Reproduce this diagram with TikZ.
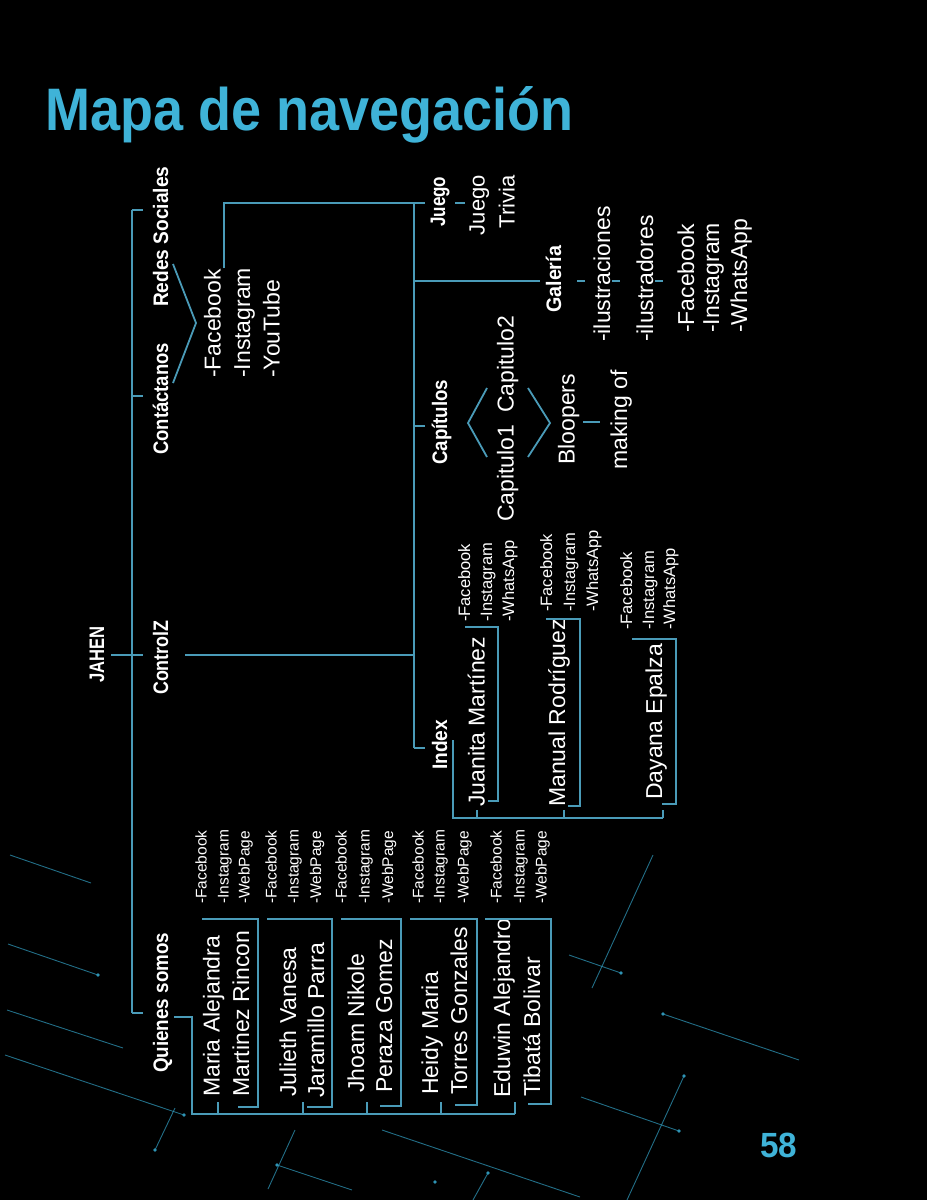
\documentclass[tikz,border=0pt]{standalone}
\usepackage{fontspec}
\setmainfont{Liberation Sans}
\usepackage{graphicx}
\definecolor{ln}{HTML}{4A9BB8}
\definecolor{ttl}{HTML}{3FB3D8}
\definecolor{deco}{HTML}{2E93B4}
\begin{document}
\begin{tikzpicture}[x=1pt,y=-1pt,
  cn/.style={draw=ln, line width=1.8pt},
  deco/.style={draw=deco, line width=0.9pt, opacity=0.75},
  dot/.style={fill=deco, draw=none},
  lab/.style={rotate=90, anchor=base west, inner sep=0pt, text=white},
  labe/.style={rotate=90, anchor=base east, inner sep=0pt, text=white},
  bl/.style={lab, font=\fontsize{21}{21}\selectfont\bfseries},
  rg/.style={lab, font=\fontsize{23}{23}\selectfont},
  sm/.style={lab, font=\fontsize{15.5}{15.5}\selectfont},
  md/.style={lab, font=\fontsize{16.5}{16.5}\selectfont}]
\useasboundingbox (0,0) rectangle (927,1200);
\fill[black] (0,0) rectangle (927,1200);

% ---- decorative background lines
\draw[deco] (10,855) -- (91,883);
\draw[deco] (8,944) -- (98,975);   \fill[dot] (98,975) circle (1.8);
\draw[deco] (7,1010) -- (123,1048);
\draw[deco] (5,1055) -- (184,1115); \fill[dot] (184,1115) circle (1.8);
\draw[deco] (175,1108) -- (155,1150); \fill[dot] (155,1150) circle (1.8);
\draw[deco] (295,1130) -- (268,1189); \fill[dot] (277,1165) circle (1.8);
\draw[deco] (277,1165) -- (352,1190);
\draw[deco] (382,1130) -- (580,1197);
\fill[dot] (435,1182) circle (1.8);
\draw[deco] (473,1200) -- (488,1173); \fill[dot] (488,1173) circle (1.8);
\draw[deco] (653,855) -- (592,988);
\draw[deco] (569,955) -- (621,973); \fill[dot] (621,973) circle (1.8);
\draw[deco] (663,1014) -- (799,1060); \fill[dot] (663,1014) circle (1.8);
\draw[deco] (684,1076) -- (627,1200); \fill[dot] (684,1076) circle (1.8);
\draw[deco] (581,1097) -- (679,1131); \fill[dot] (679,1131) circle (1.8);

% ---- title and page number
\node[anchor=base west, inner sep=0pt, text=ttl, font=\fontsize{60}{60}\selectfont\bfseries] (title) at (45,130) {\scalebox{0.9}[1]{Mapa de navegación}};
\node[anchor=base west, inner sep=0pt, text=ttl, font=\fontsize{35}{35}\selectfont\bfseries] (page) at (760,1157) {\scalebox{0.95}[1]{58}};

% ---- bold labels
\node[bl] (jahen) at (104,683) {\scalebox{0.79}[1]{JAHEN}};
\node[bl] (controlz) at (168,695) {\scalebox{0.85}[1]{ControlZ}};
\node[bl] (contact) at (168,455) {\scalebox{0.88}[1]{Contáctanos}};
\node[bl] (redes) at (168,307) {\scalebox{0.91}[1]{Redes Sociales}};
\node[bl] (quienes) at (168,1073) {\scalebox{0.895}[1]{Quienes somos}};
\node[bl] (juego) at (445,227) {\scalebox{0.81}[1]{Juego}};
\node[bl] (galeria) at (561,313) {\scalebox{0.94}[1]{Galería}};
\node[bl] (capitulos) at (447,465) {\scalebox{0.89}[1]{Capítulos}};
\node[bl] (index) at (447,770) {\scalebox{0.91}[1]{Index}};

% ---- Redes sociales list
\node[rg] (rfb) at (220.5,378) {-Facebook};
\node[rg] (rig) at (250,378) {-Instagram};
\node[rg] (ryt) at (279.5,378) {-YouTube};

% ---- Juego
\node[labe, font=\fontsize{22}{22}\selectfont] (juego2) at (484.5,175) {Juego};
\node[labe, font=\fontsize{22}{22}\selectfont] (trivia) at (514.5,175) {Trivia};

% ---- Galeria
\node[rg] (gil) at (610,342) {-ilustraciones};
\node[rg] (gild) at (653,342) {-ilustradores};
\node[rg] (gfb) at (694,333) {-Facebook};
\node[rg] (gig) at (719,333) {-Instagram};
\node[rg] (gwa) at (747,333) {-WhatsApp};

% ---- Capitulos
\node[rg] (cap1) at (513.5,522) {Capitulo1};
\node[rg] (cap2) at (513.5,413) {Capitulo2};
\node[rg] (bloop) at (574.5,465) {Bloopers};
\node[rg] (making) at (627,470) {making of};

% ---- Index people
\node[rg] (juanita) at (484.5,807) {Juanita Martínez};
\node[rg] (manual) at (565,807) {Manual Rodríguez};
\node[rg] (dayana) at (662,800) {Dayana Epalza};
\node[md] at (470,622) {-Facebook};
\node[md] at (492,622) {-Instagram};
\node[md] at (514,622) {-WhatsApp};
\node[md] at (552,612) {-Facebook};
\node[md] at (575,612) {-Instagram};
\node[md] at (598,612) {-WhatsApp};
\node[md] at (632,630) {-Facebook};
\node[md] at (654,630) {-Instagram};
\node[md] at (675,630) {-WhatsApp};

% ---- Quienes somos people
\node[rg] (n1a) at (219.5,1097) {Maria Alejandra};
\node[rg] (n1b) at (249,1097) {Martinez Rincon};
\node[rg] (n2a) at (296,1097) {Julieth Vanesa};
\node[rg] (n2b) at (324,1098) {Jaramillo Parra};
\node[rg] (n3a) at (364,1093) {Jhoam Nikole};
\node[rg] (n3b) at (392,1093) {Peraza Gomez};
\node[rg] (n4a) at (438,1095) {Heidy Maria};
\node[rg] (n4b) at (467,1095) {Torres Gonzales};
\node[rg] (n5a) at (510,1098) {Eduwin Alejandro};
\node[rg] (n5b) at (540,1097) {Tibatá Bolivar};
\foreach \a/\b/\c in {206.5/228.5/249.5, 276.5/298.5/321, 346.5/369.5/393, 423.5/444.5/468.5, 501.5/524.5/546.5}{
  \node[sm] at (\a,904) {-Facebook};
  \node[sm] at (\b,904) {-Instagram};
  \node[sm] at (\c,904) {-WebPage};
}

% ---- connectors: main spine
\coordinate (sTop) at (132,210);
\coordinate (sCon) at (132,396);
\coordinate (sBot) at (132,1013);
\draw[cn] (sTop) -- (sBot);
\draw[cn] (sTop) -- ++(11,0);
\draw[cn] (sCon) -- ++(11,0);
\draw[cn] (sBot) -- ++(11,0);
\draw[cn] (111,655) -- (143,655);
% ControlZ to second spine
\coordinate (jTop) at (414,203);
\coordinate (jGal) at (414,281);
\coordinate (jCap) at (414,426);
\coordinate (jCtl) at (414,655);
\coordinate (jIdx) at (414,748);
\draw[cn] (185,655) -- (jCtl);
\draw[cn] (jTop) -- (jIdx);
\draw[cn] (224,268) -- (224,203) -- (425,203);
\draw[cn] (jGal) -- (540,281);
\draw[cn] (jCap) -- ++(11,0);
\draw[cn] (jIdx) -- ++(11,0);
% Redes chevron
\draw[cn] (173,264) -- (196,323) -- (173,383);
% Juego dash
\draw[cn] (455,203) -- (465,203);
% Galeria dashes
\draw[cn] (577,281) -- (585,281);
\draw[cn] (612,281) -- (620,281);
\draw[cn] (655,281) -- (663,281);
% Capitulos brackets
\draw[cn] (487,388) -- (468,423) -- (487,457);
\draw[cn] (528,388) -- (550,423) -- (528,457);
\draw[cn] (583,422) -- (600,422);
% Index tree
\draw[cn] (453,740) -- (453,818) -- (663,818);
\draw[cn] (477,818) -- (477,810);
\draw[cn] (564,818) -- (564,810);
\draw[cn] (663,818) -- (663,810);
\draw[cn] (465,627) -- (498,627) -- (498,801) -- (488,801);
\draw[cn] (546,619) -- (580,619) -- (580,806) -- (568,806);
\draw[cn] (632,639) -- (676,639) -- (676,804) -- (662,804);
% Quienes tree
\draw[cn] (174,1017) -- (192,1017) -- (192,1114) -- (515,1114);
\foreach \x in {218,303,367,441,515}{\draw[cn] (\x,1114) -- (\x,1102);}
\draw[cn] (202,919) -- (258,919) -- (258,1107) -- (238,1107);
\draw[cn] (267,919) -- (332,919) -- (332,1107) -- (307,1107);
\draw[cn] (341,919) -- (401,919) -- (401,1106) -- (380,1106);
\draw[cn] (410,919) -- (477,919) -- (477,1105) -- (455,1105);
\draw[cn] (485,919) -- (551,919) -- (551,1104) -- (528,1104);
\end{tikzpicture}
\end{document}
